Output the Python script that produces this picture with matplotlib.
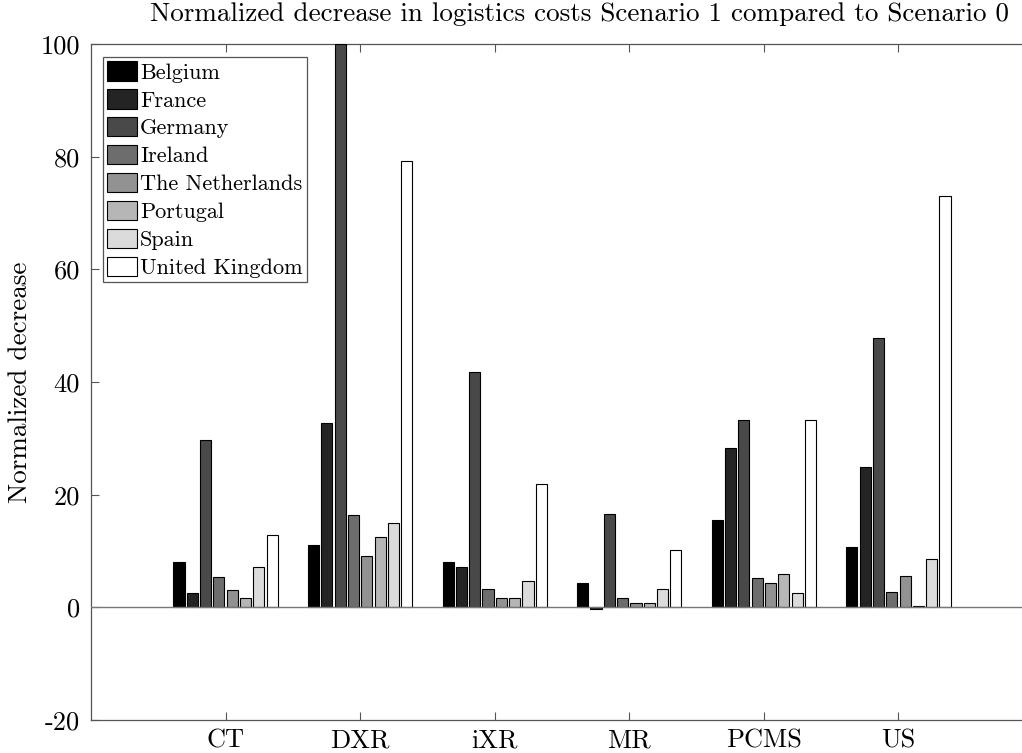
import numpy as np
import matplotlib
matplotlib.use('Agg')
import matplotlib.pyplot as plt

# Scenarios on the x axis and countries in each group
scenarios = ['CT', 'DXR', 'iXR', 'MR', 'PCMS', 'US']
countries = ['Belgium', 'France', 'Germany', 'Ireland', 'The Netherlands',
             'Portugal', 'Spain', 'United Kingdom']

# Normalized decrease per country (rows) and scenario (columns)
belgium = [8.1, 11.1, 8.0, 4.3, 15.5, 10.7]
france = [2.6, 32.7, 7.2, -0.3, 28.3, 24.9]
germany = [29.7, 100.0, 41.8, 16.5, 33.2, 47.8]
ireland = [5.4, 16.4, 3.2, 1.7, 5.2, 2.8]
netherlands = [3.1, 9.1, 1.7, 0.7, 4.3, 5.5]
portugal = [1.7, 12.5, 1.7, 0.7, 6.0, 0.2]
spain = [7.1, 15.0, 4.6, 3.3, 2.6, 8.5]
uk = [12.9, 79.3, 21.9, 10.2, 33.2, 73.0]

values = [belgium, france, germany, ireland, netherlands, portugal, spain, uk]
yticks = [-20, 0, 20, 40, 60, 80, 100]

plt.rcParams['font.family'] = ['cmr10', 'DejaVu Serif']
plt.rcParams['axes.unicode_minus'] = False

fig = plt.figure(figsize=(10.22, 7.53), dpi=100)
# axes runs a little past the right edge, as in the original export
ax = fig.add_axes([91 / 1022, 33 / 753, 942 / 1022, 676 / 753])

x = np.arange(1, len(scenarios) + 1)
n = len(countries)
step = 0.099
width = 0.083
for i, (name, vals) in enumerate(zip(countries, values)):
    shade = str(i / (n - 1))
    ax.bar(x + (i - (n - 1) / 2) * step, vals, width, color=shade,
           edgecolor='black', linewidth=0.8, label=name, zorder=3)

ax.axhline(0, color='#777777', linewidth=1.0, zorder=4)

ax.set_xlim(0, 7)
ax.set_ylim(-20, 100)
ax.set_xticks(x)
ax.set_xticklabels(scenarios, fontsize=19)
ax.set_yticks(yticks)
ax.set_yticklabels([str(t) for t in yticks], fontsize=19)
ax.tick_params(direction='in', length=6, width=0.8, color='#555555',
               top=True, right=True)
ax.tick_params(axis='x', pad=6)
ax.tick_params(axis='y', pad=8)
for s in ax.spines.values():
    s.set_color('#555555')
    s.set_linewidth(0.9)

ax.set_ylabel('Normalized decrease', fontsize=19.5, labelpad=6)
fig.text(580 / 1022, 1 - 14 / 753,
         'Normalized decrease in logistics costs Scenario 1 compared to Scenario 0',
         ha='center', va='center', fontsize=19.5)

leg = ax.legend(loc='upper left', bbox_to_anchor=(12 / 942, 1 - 13 / 676),
                fontsize=16, frameon=True, fancybox=False, framealpha=1,
                edgecolor='#555555', handlelength=1.35, handleheight=0.95,
                handletextpad=0.12, labelspacing=0.3, borderpad=0.2,
                borderaxespad=0)
leg.get_frame().set_linewidth(0.9)

fig.savefig('out.png', dpi=100)
